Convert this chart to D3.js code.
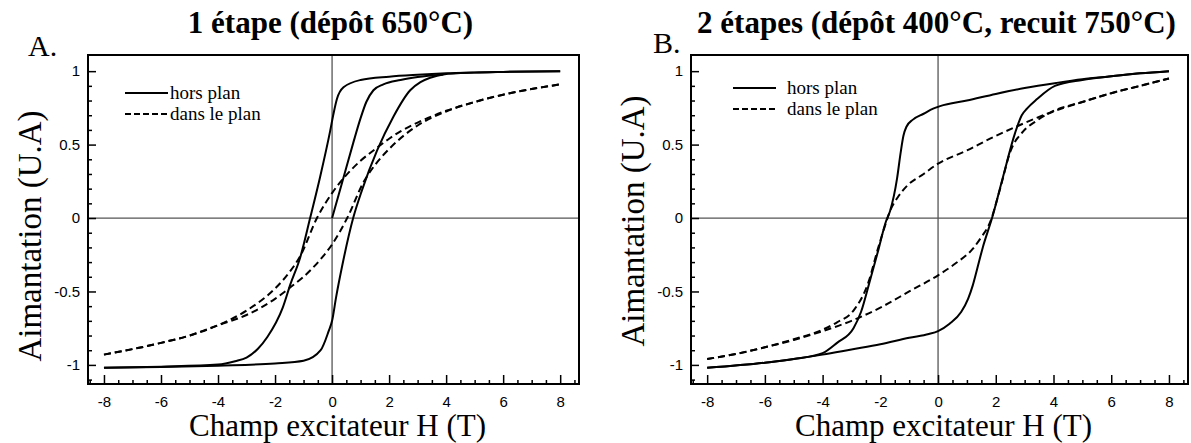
<!DOCTYPE html>
<html>
<head>
<meta charset="utf-8">
<script src="https://cdn.jsdelivr.net/npm/d3@7"></script>
<style>
  body { margin: 0; background: #fff; }
  svg { display: block; }
</style>
</head>
<body>
<svg id="chart" width="1191" height="443"></svg>
<script>
// values read off the figure : [champ H (T), aimantation (U.A)]
// A : 1 étape
const aHorsDown = [[-8,-1.02],[-6,-1.012],[-4,-0.998],[-3.4,-0.975],[-3,-0.95],[-2.6,-0.89],[-2.27,-0.81],[-1.73,-0.61],[-1.46,-0.45],[-1.12,-0.27],[-0.77,0],[-0.42,0.28],[-0.07,0.59],[0.05,0.71],[0.17,0.81],[0.4,0.89],[1,0.94],[2,0.962],[3,0.975],[4,0.985],[6,0.995],[8,1.0]];
const aHorsUp = [[-8,-1.02],[-6,-1.015],[-4,-1.005],[-2,-0.99],[-1,-0.972],[-0.4,-0.9],[-0.12,-0.77],[0,-0.70],[0.14,-0.54],[0.35,-0.33],[0.74,0],[1.05,0.19],[1.58,0.46],[2.15,0.69],[2.74,0.87],[3.1,0.925],[3.44,0.955],[3.9,0.978],[5,0.99],[6,0.995],[8,1.0]];
const aHorsFirst = [[0,0],[0.35,0.24],[0.74,0.51],[1.0,0.68],[1.2,0.79],[1.45,0.87],[1.8,0.91],[2.4,0.94],[3,0.96],[3.9,0.978]];
const aPlanDown = [[-8,-0.93],[-6,-0.85],[-5,-0.80],[-4,-0.73],[-3,-0.63],[-2,-0.48],[-1.5,-0.37],[-1.12,-0.26],[-0.53,0],[0,0.17],[0.4,0.27],[1,0.39],[1.45,0.46],[2,0.54],[2.4,0.59],[3,0.65],[4,0.73],[5,0.79],[6,0.84],[8,0.91]];
const aPlanUp = [[-8,-0.93],[-6,-0.85],[-5,-0.80],[-4,-0.73],[-3,-0.66],[-2,-0.55],[-1.45,-0.47],[-1,-0.40],[-0.4,-0.28],[0,-0.18],[0.53,0],[1.12,0.25],[1.5,0.36],[2,0.47],[3,0.63],[4,0.725],[5,0.79],[6,0.84],[8,0.91]];

// B : 2 étapes
const bHorsDown = [[-8,-1.02],[-6,-0.985],[-5,-0.96],[-4,-0.92],[-3.5,-0.85],[-2.93,-0.75],[-2.67,-0.64],[-2.38,-0.44],[-2.1,-0.24],[-1.8,-0.02],[-1.66,0.05],[-1.42,0.27],[-1.3,0.44],[-1.2,0.56],[-1.1,0.62],[-0.87,0.67],[-0.5,0.71],[-0.17,0.745],[0.07,0.762],[1,0.80],[2,0.845],[3,0.885],[4.1,0.92],[5,0.945],[6,0.965],[7,0.985],[8,1.0]];
const bHorsUp = [[-8,-1.02],[-6,-0.985],[-5,-0.96],[-4,-0.93],[-3,-0.895],[-2,-0.86],[-1,-0.815],[-0.32,-0.79],[0,-0.77],[0.4,-0.72],[0.8,-0.64],[1.04,-0.55],[1.2,-0.46],[1.35,-0.35],[1.55,-0.2],[1.87,0],[2.25,0.28],[2.67,0.58],[2.9,0.7],[3.08,0.745],[3.43,0.81],[4.05,0.90],[5,0.94],[6,0.965],[7,0.985],[8,1.0]];
const bPlanDown = [[-8,-0.96],[-7,-0.925],[-6,-0.88],[-5,-0.825],[-4,-0.76],[-3.5,-0.71],[-2.93,-0.63],[-2.4,-0.43],[-2.1,-0.22],[-1.8,-0.03],[-1.66,0.05],[-1.4,0.14],[-1.07,0.22],[-0.5,0.30],[0,0.37],[1,0.46],[1.8,0.54],[2.8,0.63],[3.78,0.71],[5,0.79],[6,0.85],[7,0.90],[8,0.95]];
const bPlanUp = [[-8,-0.96],[-7,-0.925],[-6,-0.88],[-5,-0.83],[-4,-0.77],[-3,-0.70],[-2,-0.61],[-1,-0.50],[0,-0.39],[0.6,-0.31],[1.2,-0.21],[1.5,-0.13],[1.8,-0.03],[2.15,0.2],[2.5,0.45],[2.95,0.59],[3.4,0.66],[3.9,0.72],[5,0.79],[6,0.85],[7,0.90],[8,0.95]];

const xTicks = [-8,-6,-4,-2,0,2,4,6,8];
const yTicks = [-1,-0.5,0,0.5,1];
const xMinor = d3.range(-8.5, 8.51, 0.5);
const yMinor = d3.range(-11, 11).map(d => d / 10);
const legendLabels = ["hors plan", "dans le plan"];
const titles = ["1 étape (dépôt 650°C)", "2 étapes (dépôt 400°C, recuit 750°C)"];
const letters = ["A.", "B."];
const xLabel = "Champ excitateur H (T)";
const yLabel = "Aimantation (U.A)";

const svg = d3.select("#chart");
const serif = "'Liberation Serif', 'Times New Roman', serif";
const sans = "'Liberation Sans', Arial, sans-serif";

const panels = [
  { left: 88, right: 579, hors: [aHorsDown, aHorsUp, aHorsFirst], plan: [aPlanDown, aPlanUp],
    legX: 125, legY: 93, textDx: 45, letterX: 28, letterY: 56, yLabX: 41, yLabY: 236 },
  { left: 691, right: 1188, hors: [bHorsDown, bHorsUp], plan: [bPlanDown, bPlanUp],
    legX: 733, legY: 88, textDx: 54, letterX: 653, letterY: 53, yLabX: 644, yLabY: 221 }
];
const plotTop = 55, plotBottom = 384;

panels.forEach(function(p, i) {
  const x = d3.scaleLinear().domain([-8.56, 8.66]).range([p.left, p.right]);
  const y = d3.scaleLinear().domain([-1.13, 1.11]).range([plotBottom, plotTop]);
  const g = svg.append("g");

  // zero lines
  g.append("line").attr("x1", x(0)).attr("x2", x(0)).attr("y1", plotTop).attr("y2", plotBottom)
    .attr("stroke", "#555").attr("stroke-width", 1.3);
  g.append("line").attr("x1", p.left).attr("x2", p.right).attr("y1", y(0)).attr("y2", y(0))
    .attr("stroke", "#555").attr("stroke-width", 1.3);

  // axes, ticks pointing inwards
  const xa = g.append("g").attr("transform", "translate(0," + plotBottom + ")")
    .call(d3.axisBottom(x).tickValues(xTicks).tickSizeInner(-9).tickSizeOuter(0).tickPadding(12).tickFormat(d => String(d)));
  const xm = g.append("g").attr("transform", "translate(0," + plotBottom + ")")
    .call(d3.axisBottom(x).tickValues(xMinor.filter(v => v % 2 !== 0)).tickSizeInner(-4).tickSizeOuter(0).tickFormat(""));
  const ya = g.append("g").attr("transform", "translate(" + p.left + ",0)")
    .call(d3.axisLeft(y).tickValues(yTicks).tickSizeInner(-8).tickSizeOuter(0).tickPadding(8).tickFormat(d => String(d)));
  const ym = g.append("g").attr("transform", "translate(" + p.left + ",0)")
    .call(d3.axisLeft(y).tickValues(yMinor.filter(v => Math.round(v * 10) % 5 !== 0)).tickSizeInner(-4).tickSizeOuter(0).tickFormat(""));
  [xa, xm, ya, ym].forEach(a => {
    a.select(".domain").remove();
    a.selectAll("line").attr("stroke", "#000").attr("stroke-width", 1.5);
    a.selectAll("text").attr("fill", "#000").style("font-family", sans).style("font-size", "15px");
  });

  // frame
  g.append("rect").attr("x", p.left).attr("y", plotTop).attr("width", p.right - p.left).attr("height", plotBottom - plotTop)
    .attr("fill", "none").attr("stroke", "#000").attr("stroke-width", 2);

  const line = d3.line().x(d => x(d[0])).y(d => y(d[1])).curve(d3.curveMonotoneX);
  p.hors.forEach(s => {
    g.append("path").datum(s).attr("d", line).attr("fill", "none")
      .attr("stroke", "#000").attr("stroke-width", 2);
  });
  p.plan.forEach(s => {
    g.append("path").datum(s).attr("d", line).attr("fill", "none")
      .attr("stroke", "#000").attr("stroke-width", 2).attr("stroke-dasharray", "7,4");
  });

  // legend
  legendLabels.forEach((lab, k) => {
    const ly = p.legY + k * 21;
    g.append("line").attr("x1", p.legX).attr("x2", p.legX + 43).attr("y1", ly).attr("y2", ly)
      .attr("stroke", "#000").attr("stroke-width", 2)
      .attr("stroke-dasharray", k === 1 ? "6,3" : null);
    g.append("text").attr("x", p.legX + p.textDx).attr("y", ly + 6)
      .style("font-family", serif).style("font-size", "19px").text(lab);
  });

  // titles and labels
  const mid = (p.left + p.right) / 2;
  g.append("text").attr("x", mid - 3).attr("y", 33).attr("text-anchor", "middle")
    .style("font-family", serif).style("font-size", "31px").style("font-weight", "bold").text(titles[i]);
  g.append("text").attr("x", p.letterX).attr("y", p.letterY)
    .style("font-family", serif).style("font-size", "30px").text(letters[i]);
  g.append("text").attr("x", mid + 4).attr("y", 436).attr("text-anchor", "middle")
    .style("font-family", serif).style("font-size", "31px").text(xLabel);
  g.append("text").attr("transform", "translate(" + p.yLabX + "," + p.yLabY + ") rotate(-90)")
    .attr("text-anchor", "middle")
    .style("font-family", serif).style("font-size", "33px").text(yLabel);
});
</script>
</body>
</html>
